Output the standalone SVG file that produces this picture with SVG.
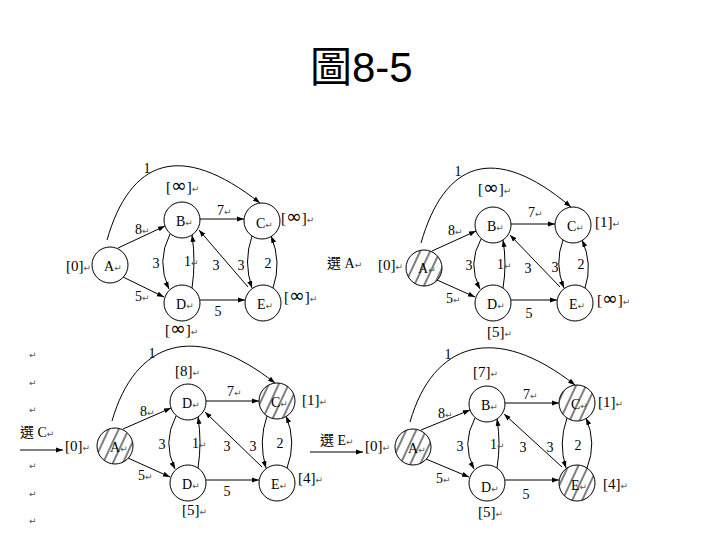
<svg xmlns="http://www.w3.org/2000/svg" width="720" height="540" viewBox="0 0 720 540">
<style>
.t{font-family:"Liberation Serif","Noto Sans CJK TC",serif;font-size:14px;fill:#000}
.lb{font-family:"Liberation Serif","Noto Sans CJK TC",serif;font-size:15px;fill:#000}
.inf{font-family:"DejaVu Sans",sans-serif;font-size:19px}
.pm{font-family:"DejaVu Sans",sans-serif;font-size:9px;fill:#555}
.n{fill:#fff;stroke:#000;stroke-width:1}
.h{fill:url(#hatch);stroke:#000;stroke-width:1}
.e{fill:none;stroke:#000;stroke-width:1;marker-end:url(#ah)}
.title{font-family:"Liberation Sans","Noto Sans CJK TC",sans-serif;font-size:42px;fill:#000}
</style>
<defs>
<marker id="ah" markerWidth="8" markerHeight="6" refX="7" refY="3" orient="auto" markerUnits="userSpaceOnUse">
<path d="M0,0.5 L7,3 L0,5.5 z" fill="#000"/>
</marker>
<pattern id="hatch" width="9" height="9" patternUnits="userSpaceOnUse" patternTransform="rotate(25)">
<rect width="9" height="9" fill="#fff"/>
<line x1="1" y1="0" x2="1" y2="9" stroke="#000" stroke-width="1"/>
</pattern>
</defs>
<rect width="720" height="540" fill="#fff"/>
<text class="title" x="310" y="82">圖8-5</text>

<!-- margin paragraph marks -->
<g id="margin">
<text class="pm" x="29" y="358">↵</text>
<text class="pm" x="29" y="386">↵</text>
<text class="pm" x="29" y="413">↵</text>
<text class="pm" x="29" y="469">↵</text>
<text class="pm" x="29" y="497">↵</text>
<text class="pm" x="29" y="524">↵</text>
</g>

<!-- connectors -->
<g id="connectors">
<!-- graph 1 -->
<path class="e" d="M107,240 C130,160 180,140 260,203"/>
<path class="e" d="M118,248 L165,226"/>
<path class="e" d="M123,277 L164,297"/>
<path class="e" d="M200,219 L244,219"/>
<path class="e" d="M200,300 L245,300"/>
<path class="e" d="M248,287 L199,230"/>
<path class="e" d="M170,234 Q156,261.5 169,289"/>
<path class="e" d="M192,288 Q196,261.5 192,235"/>
<path class="e" d="M252,236 Q243,262 252,288"/>
<path class="e" d="M273,288 Q282,262 271,236"/>
<!-- graph 2 -->
<path class="e" d="M421,243 C444,163 493,141 571,207"/>
<path class="e" d="M432,251 L476,231"/>
<path class="e" d="M437,280 L475,297"/>
<path class="e" d="M511,224 L555,224"/>
<path class="e" d="M511,300 L557,300"/>
<path class="e" d="M560,287 L510,235"/>
<path class="e" d="M481,239 Q467,264 480,289"/>
<path class="e" d="M503,288 Q507,264 503,240"/>
<path class="e" d="M563,240 Q554,264 564,288"/>
<path class="e" d="M585,288 Q593,264 582,240"/>
<!-- graph 3 -->
<path class="e" d="M112,421 C135,341 195,320 275,383"/>
<path class="e" d="M123,429 L171,408"/>
<path class="e" d="M128,458 L170,477"/>
<path class="e" d="M206,401 L259,401"/>
<path class="e" d="M206,480 L259,480"/>
<path class="e" d="M262,467 L205,412"/>
<path class="e" d="M176,416 Q162,442.5 175,469"/>
<path class="e" d="M198,468 Q202,442.5 198,417"/>
<path class="e" d="M267,416 Q258,442 266,468"/>
<path class="e" d="M287,468 Q297,442 286,416"/>
<!-- graph 4 -->
<path class="e" d="M410,422 C433,342 495,322 575,385"/>
<path class="e" d="M421,430 L470,410"/>
<path class="e" d="M426,459 L469,477"/>
<path class="e" d="M505,403 L559,403"/>
<path class="e" d="M505,480 L559,480"/>
<path class="e" d="M562,467 L504,414"/>
<path class="e" d="M475,418 Q461,443.5 474,469"/>
<path class="e" d="M497,468 Q501,443.5 497,419"/>
<path class="e" d="M567,418 Q558,443 566,468"/>
<path class="e" d="M587,468 Q597,443 586,418"/>
<!-- step arrows -->
<path class="e" d="M20,450 L63,450"/>
<path class="e" d="M310,452 L363,452"/>
</g>

<!-- graph 1 nodes -->
<g id="g1-A"><circle class="n" cx="110" cy="265" r="18"/><text class="t" x="104" y="271">A<tspan class="pm">↵</tspan></text></g>
<g id="g1-B"><circle class="n" cx="182" cy="220" r="18"/><text class="t" x="176" y="226">B<tspan class="pm">↵</tspan></text></g>
<g id="g1-C"><circle class="n" cx="262" cy="221" r="18"/><text class="t" x="256" y="228">C<tspan class="pm">↵</tspan></text></g>
<g id="g1-D"><circle class="n" cx="182" cy="303" r="18"/><text class="t" x="176" y="309">D<tspan class="pm">↵</tspan></text></g>
<g id="g1-E"><circle class="n" cx="263" cy="303" r="18"/><text class="t" x="257" y="309">E<tspan class="pm">↵</tspan></text></g>
<g id="g1-labels">
<text class="t" x="143.5" y="173">1</text>
<text class="lb" x="166" y="192">[<tspan class="inf">∞</tspan>]<tspan class="pm">↵</tspan></text>
<text class="t" x="217" y="215">7<tspan class="pm">↵</tspan></text>
<text class="lb" x="281" y="223">[<tspan class="inf">∞</tspan>]<tspan class="pm">↵</tspan></text>
<text class="t" x="135" y="234">8<tspan class="pm">↵</tspan></text>
<text class="lb" x="66" y="271">[0]<tspan class="pm">↵</tspan></text>
<text class="t" x="152.5" y="268">3</text>
<text class="t" x="184" y="266">1<tspan class="pm">↵</tspan></text>
<text class="t" x="212.5" y="270">3</text>
<text class="t" x="237.5" y="270">3</text>
<text class="t" x="264.5" y="268">2</text>
<text class="t" x="135" y="301">5<tspan class="pm">↵</tspan></text>
<text class="t" x="214.5" y="316">5</text>
<text class="lb" x="284" y="302">[<tspan class="inf">∞</tspan>]<tspan class="pm">↵</tspan></text>
<text class="lb" x="165" y="335">[<tspan class="inf">∞</tspan>]<tspan class="pm">↵</tspan></text>
<text class="t" x="327" y="268">選 A<tspan class="pm">↵</tspan></text>
</g>

<!-- graph 2 nodes -->
<g id="g2-A"><circle class="h" cx="424" cy="268" r="18"/><text class="t" x="418" y="273">A<tspan class="pm">↵</tspan></text></g>
<g id="g2-B"><circle class="n" cx="493" cy="225" r="18"/><text class="t" x="487" y="231">B<tspan class="pm">↵</tspan></text></g>
<g id="g2-C"><circle class="n" cx="573" cy="225" r="18"/><text class="t" x="567" y="231">C<tspan class="pm">↵</tspan></text></g>
<g id="g2-D"><circle class="n" cx="493" cy="303" r="18"/><text class="t" x="487" y="309">D<tspan class="pm">↵</tspan></text></g>
<g id="g2-E"><circle class="n" cx="575" cy="303" r="18"/><text class="t" x="569" y="309">E<tspan class="pm">↵</tspan></text></g>
<g id="g2-labels">
<text class="t" x="454.5" y="176">1</text>
<text class="lb" x="478" y="194">[<tspan class="inf">∞</tspan>]<tspan class="pm">↵</tspan></text>
<text class="t" x="528" y="217">7<tspan class="pm">↵</tspan></text>
<text class="lb" x="595" y="227">[1]<tspan class="pm">↵</tspan></text>
<text class="t" x="448" y="235">8<tspan class="pm">↵</tspan></text>
<text class="lb" x="378" y="270">[0]<tspan class="pm">↵</tspan></text>
<text class="t" x="465.5" y="270">3</text>
<text class="t" x="497" y="269">1<tspan class="pm">↵</tspan></text>
<text class="t" x="524.5" y="273">3</text>
<text class="t" x="551.5" y="272">3</text>
<text class="t" x="577.5" y="269">2</text>
<text class="t" x="446" y="303">5<tspan class="pm">↵</tspan></text>
<text class="t" x="525.5" y="318">5</text>
<text class="lb" x="597" y="305">[<tspan class="inf">∞</tspan>]<tspan class="pm">↵</tspan></text>
<text class="lb" x="487" y="337">[5]<tspan class="pm">↵</tspan></text>
</g>

<!-- graph 3 nodes -->
<g id="g3-A"><circle class="h" cx="115" cy="446" r="18"/><text class="t" x="110" y="452">A<tspan class="pm">↵</tspan></text></g>
<g id="g3-B"><circle class="n" cx="188" cy="402" r="18"/><text class="t" x="182" y="408">D<tspan class="pm">↵</tspan></text></g>
<g id="g3-C"><circle class="h" cx="277" cy="401" r="18"/><text class="t" x="271" y="407">C<tspan class="pm">↵</tspan></text></g>
<g id="g3-D"><circle class="n" cx="188" cy="483" r="18"/><text class="t" x="182" y="489">D<tspan class="pm">↵</tspan></text></g>
<g id="g3-E"><circle class="n" cx="277" cy="483" r="18"/><text class="t" x="271" y="489">E<tspan class="pm">↵</tspan></text></g>
<g id="g3-labels">
<text class="t" x="148.5" y="358">1</text>
<text class="lb" x="175" y="376">[8]<tspan class="pm">↵</tspan></text>
<text class="t" x="227" y="396">7<tspan class="pm">↵</tspan></text>
<text class="lb" x="302" y="405">[1]<tspan class="pm">↵</tspan></text>
<text class="t" x="140" y="416">8<tspan class="pm">↵</tspan></text>
<text class="t" x="20" y="437">選 C<tspan class="pm">↵</tspan></text>
<text class="lb" x="65" y="451">[0]<tspan class="pm">↵</tspan></text>
<text class="t" x="158.5" y="449">3</text>
<text class="t" x="192" y="448">1<tspan class="pm">↵</tspan></text>
<text class="t" x="223.5" y="451">3</text>
<text class="t" x="249.5" y="451">3</text>
<text class="t" x="276.5" y="448">2</text>
<text class="t" x="138" y="480">5<tspan class="pm">↵</tspan></text>
<text class="t" x="223.5" y="496">5</text>
<text class="lb" x="298" y="483">[4]<tspan class="pm">↵</tspan></text>
<text class="lb" x="182" y="515">[5]<tspan class="pm">↵</tspan></text>
</g>

<!-- graph 4 nodes -->
<g id="g4-A"><circle class="h" cx="413" cy="447" r="18"/><text class="t" x="408" y="453">A<tspan class="pm">↵</tspan></text></g>
<g id="g4-B"><circle class="n" cx="487" cy="404" r="18"/><text class="t" x="481" y="410">B<tspan class="pm">↵</tspan></text></g>
<g id="g4-C"><circle class="h" cx="577" cy="403" r="18"/><text class="t" x="571" y="409">C<tspan class="pm">↵</tspan></text></g>
<g id="g4-D"><circle class="n" cx="487" cy="483" r="18"/><text class="t" x="481" y="492">D<tspan class="pm">↵</tspan></text></g>
<g id="g4-E"><circle class="h" cx="577" cy="483" r="18"/><text class="t" x="571" y="490">E<tspan class="pm">↵</tspan></text></g>
<g id="g4-labels">
<text class="t" x="444.5" y="359">1</text>
<text class="lb" x="473" y="377">[7]<tspan class="pm">↵</tspan></text>
<text class="t" x="523" y="399">7<tspan class="pm">↵</tspan></text>
<text class="lb" x="598" y="407">[1]<tspan class="pm">↵</tspan></text>
<text class="t" x="438" y="418">8<tspan class="pm">↵</tspan></text>
<text class="t" x="320" y="445">選 E<tspan class="pm">↵</tspan></text>
<text class="lb" x="365" y="451">[0]<tspan class="pm">↵</tspan></text>
<text class="t" x="456.5" y="451">3</text>
<text class="t" x="490" y="449">1<tspan class="pm">↵</tspan></text>
<text class="t" x="519.5" y="452">3</text>
<text class="t" x="546.5" y="452">3</text>
<text class="t" x="574.5" y="450">2</text>
<text class="t" x="436" y="483">5<tspan class="pm">↵</tspan></text>
<text class="t" x="522.5" y="499">5</text>
<text class="lb" x="603" y="489">[4]<tspan class="pm">↵</tspan></text>
<text class="lb" x="478" y="517">[5]<tspan class="pm">↵</tspan></text>
</g>
</svg>
